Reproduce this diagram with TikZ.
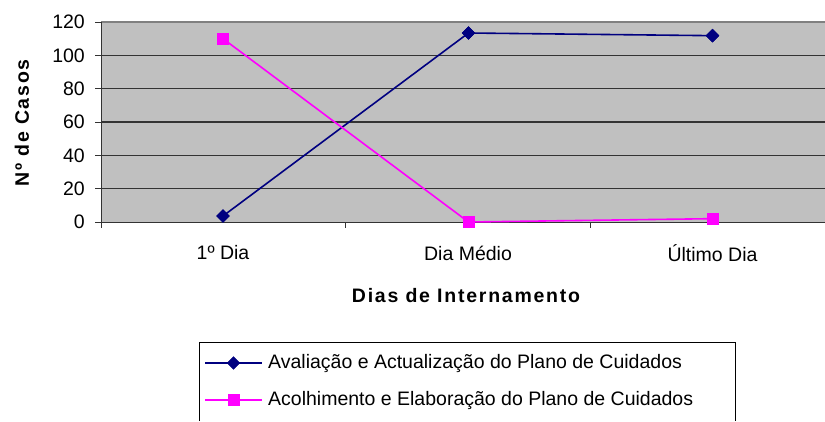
\documentclass[tikz,border=0pt]{standalone}
\usepackage{fontspec}
\setmainfont{Liberation Sans}
\usetikzlibrary{shapes.geometric}
\definecolor{navyc}{HTML}{000080}
\definecolor{magc}{HTML}{FF00FF}
\definecolor{plotbg}{HTML}{C0C0C0}
\definecolor{gridc}{HTML}{333333}
\definecolor{topc}{HTML}{808080}
\begin{document}
\begin{tikzpicture}[x=1pt,y=-1pt,
  lbl/.style={font=\fontsize{19.5}{23}\selectfont, inner sep=0pt},
  ttl/.style={font=\fontsize{19.5}{23}\selectfont\bfseries\addfontfeature{LetterSpace=9}, inner sep=0pt},
  bmark/.style={diamond, fill=navyc, draw=navyc, inner sep=0pt, minimum size=13pt},
  pmark/.style={rectangle, fill=magc, draw=magc, inner sep=0pt, minimum size=11pt},
  bline/.style={navyc, line width=1.6pt},
  pline/.style={magc, line width=1.6pt},
  gline/.style={gridc, line width=1.2pt},
  axline/.style={black!80, line width=1pt}]
\useasboundingbox (0,0) rectangle (825,421);
% plot area
\fill[plotbg] (101,22) rectangle (825,222);
\foreach \v in {20,40,60,80,100} {
  \draw[gline] (101,{222-\v*5/3}) -- (825,{222-\v*5/3});
}
\draw[topc, line width=1.8pt] (101,22) -- (825,22);
% axes
\draw[axline] (101,22) -- (101,228);
\draw[axline] (101,222) -- (825,222);
\foreach \v in {0,20,40,60,80,100,120} {
  \draw[axline] (95,{222-\v*5/3}) -- (101,{222-\v*5/3});
  \node[lbl, anchor=east] (yl\v) at (85,{222-\v*5/3}) {\v};
}
\foreach \x in {345.5,590} { \draw[axline] (\x,222) -- (\x,228); }
% category labels
\node[lbl] (c1) at (223,253) {1º Dia};
\node[lbl] (c2) at (468,253) {Dia Médio};
\node[lbl] (c3) at (712.5,253) {Último Dia};
% titles
\node[ttl] (xt) at (466,296) {Dias de Internamento};
\node[ttl, rotate=90] (yt) at (22,123) {Nº de Casos};
% series
\node[bmark] (b1) at (223,{222-3.6*5/3}) {};
\node[bmark] (b2) at (468.5,{222-113.4*5/3}) {};
\node[bmark] (b3) at (712.5,{222-111.8*5/3}) {};
\node[pmark] (p1) at (223,{222-110*5/3}) {};
\node[pmark] (p2) at (468.5,222) {};
\node[pmark] (p3) at (712.5,{222-2*5/3}) {};
\draw[bline] (b1.center) -- (b2.center) -- (b3.center);
\draw[pline] (p1.center) -- (p2.center) -- (p3.center);
\node[bmark] at (b1) {};
\node[bmark] at (b2) {};
\node[bmark] at (b3) {};
\node[pmark] at (p1) {};
\node[pmark] at (p2) {};
\node[pmark] at (p3) {};
% legend
\draw[black, line width=1pt] (199,421) -- (199,342) -- (735,342) -- (735,421);
\coordinate (la1) at (205,363);
\coordinate (la2) at (262,363);
\coordinate (lb1) at (205,400);
\coordinate (lb2) at (262,400);
\draw[bline] (la1) -- (la2);
\draw[pline] (lb1) -- (lb2);
\node[bmark] (lm1) at (233.5,363) {};
\node[pmark] (lm2) at (233.5,400) {};
\node[lbl, anchor=west] (lt1) at (268,363) {Avaliação e Actualização do Plano de Cuidados};
\node[lbl, anchor=west] (lt2) at (268,400) {Acolhimento e Elaboração do Plano de Cuidados};
\end{tikzpicture}
\end{document}
